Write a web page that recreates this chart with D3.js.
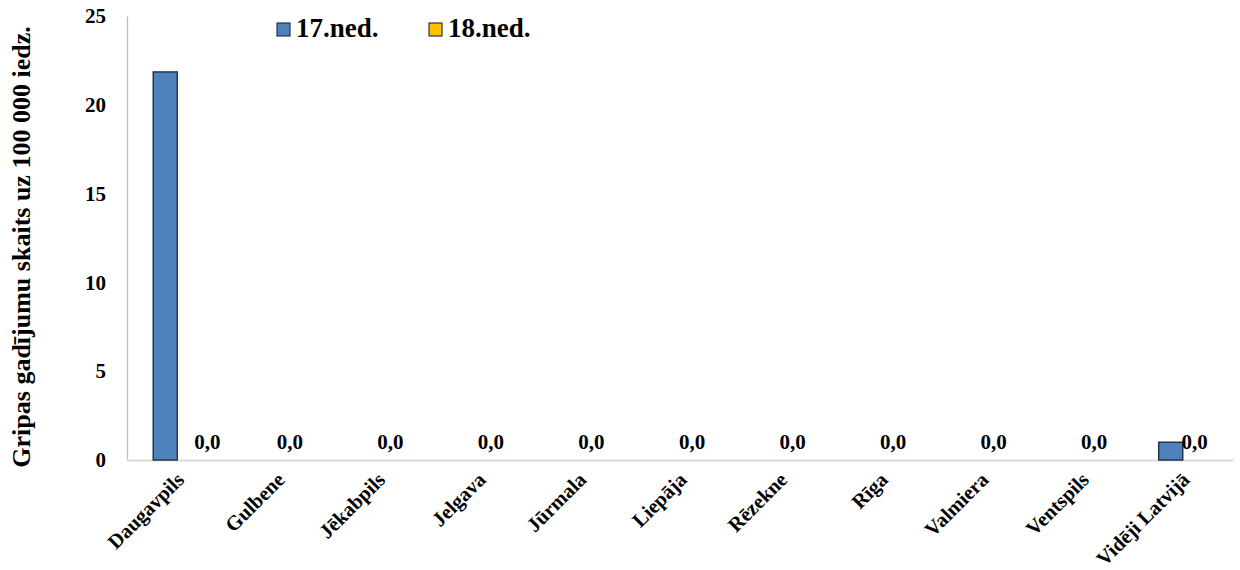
<!DOCTYPE html>
<html>
<head>
<meta charset="utf-8">
<script src="https://cdn.jsdelivr.net/npm/d3@7"></script>
<style>
  html, body { margin: 0; padding: 0; background: #ffffff; }
  svg { display: block; font-family: "Liberation Serif", "Times New Roman", serif; font-weight: bold; }
</style>
</head>
<body>
<svg id="chart" width="1240" height="570"></svg>
<script>
// Influenza cases per 100 000 inhabitants by city, weeks 17 and 18
const categories = ["Daugavpils", "Gulbene", "Jēkabpils", "Jelgava", "Jūrmala", "Liepāja",
                    "Rēzekne", "Rīga", "Valmiera", "Ventspils", "Vidēji Latvijā"];
const week17 = [21.85, 0, 0, 0, 0, 0, 0, 0, 0, 0, 1.0];
const week18 = [0, 0, 0, 0, 0, 0, 0, 0, 0, 0, 0];
const seriesNames = ["17.ned.", "18.ned."];
const yTicks = [0, 5, 10, 15, 20, 25];
const yTitle = "Gripas gadījumu skaits uz 100 000 iedz.";

const colors = ["#4F81BD", "#FFC000"];
const series = [week17, week18];

const svg = d3.select("#chart");
const plot = { left: 127, right: 1233, top: 16, bottom: 460 };

const x = d3.scaleBand().domain(categories).range([plot.left, plot.right]);
const y = d3.scaleLinear().domain([0, 25]).range([plot.bottom, plot.top]);
const barW = x.bandwidth() * 0.239;
const sub = d3.scaleBand().domain([0, 1]).range([-barW, barW]);

// axes
const yAxis = d3.axisLeft(y).tickValues(yTicks).tickSize(0).tickPadding(21).tickFormat(d3.format("d"));
const gy = svg.append("g").attr("transform", `translate(${plot.left},0)`).call(yAxis);
gy.select(".domain").attr("stroke", "#bfbfbf").attr("stroke-width", 1.3);
gy.selectAll("text").attr("font-size", 21).attr("font-family", "Liberation Serif").attr("font-weight", "bold").attr("fill", "#000");

const xAxis = d3.axisBottom(x).tickSize(0).tickPadding(0);
const gx = svg.append("g").attr("transform", `translate(0,${plot.bottom})`).call(xAxis);
gx.select(".domain").attr("stroke", "#d9d9d9").attr("stroke-width", 2);
gx.selectAll("text")
  .attr("font-size", 20.5).attr("font-family", "Liberation Serif").attr("font-weight", "bold").attr("fill", "#000")
  .attr("text-anchor", "end")
  .attr("dy", null).attr("y", 0)
  .attr("transform", "translate(8,21) rotate(-45)");

// bars
series.forEach((vals, si) => {
  svg.append("g").selectAll("rect").data(vals).join("rect")
    .attr("x", (d, i) => x(categories[i]) + x.bandwidth() / 2 + sub(si))
    .attr("width", sub.bandwidth())
    .attr("y", d => y(d))
    .attr("height", d => y(0) - y(d))
    .attr("fill", colors[si])
    .attr("stroke", d => d > 0 ? "#26354a" : "none")
    .attr("stroke-width", 1.5);
});

// value labels for week 18
const labelShift = [18, 0, 0, 0, 0, 0, 0, 0, 0, 0, 0];
svg.append("g").selectAll("text").data(week18).join("text")
  .attr("x", (d, i) => x(categories[i]) + x.bandwidth() / 2 + sub(1) + sub.bandwidth() / 2 + labelShift[i])
  .attr("y", d => y(d) - 11)
  .attr("text-anchor", "middle")
  .attr("font-size", 21)
  .attr("fill", "#000")
  .text(d => d3.format(".1f")(d).replace(".", ","));

// y axis title
svg.append("text")
  .attr("transform", "translate(30,247) rotate(-90)")
  .attr("text-anchor", "middle")
  .attr("font-size", 26)
  .attr("fill", "#000")
  .text(yTitle);

// legend
const legendX = [276, 428];
const legend = svg.append("g");
seriesNames.forEach((name, i) => {
  legend.append("rect")
    .attr("x", legendX[i] + 1).attr("y", 23)
    .attr("width", 13).attr("height", 13)
    .attr("fill", colors[i]).attr("stroke", "#26354a").attr("stroke-width", 1.2);
  legend.append("text")
    .attr("x", legendX[i] + 20).attr("y", 37)
    .attr("font-size", 27).attr("fill", "#000")
    .text(name);
});
</script>
</body>
</html>
